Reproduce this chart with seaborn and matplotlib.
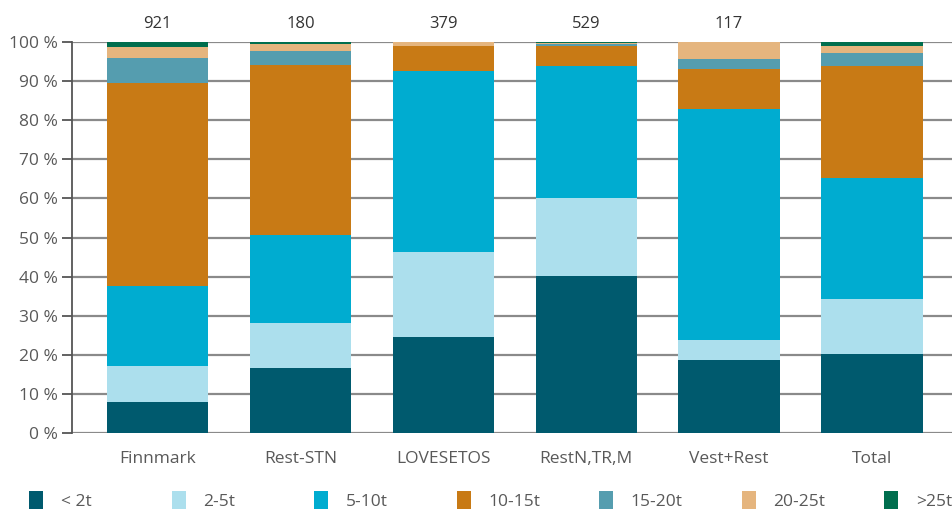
import numpy as np
import pandas as pd
import matplotlib
matplotlib.use('Agg')
import matplotlib.pyplot as plt
import seaborn as sns
from matplotlib.patches import Patch

# Data (shares in %)
regions = ['Finnmark', 'Rest-STN', 'LOVESETOS', 'RestN,TR,M', 'Vest+Rest', 'Total']
counts = ['921', '180', '379', '529', '117', '']
classes = ['< 2t', '2-5t', '5-10t', '10-15t', '15-20t', '20-25t', '>25t']

lt2 = [7.9, 16.6, 24.6, 40.2, 18.7, 20.2]
t2_5 = [9.2, 11.5, 21.7, 19.9, 5.1, 14.1]
t5_10 = [20.6, 22.5, 46.4, 33.8, 59.1, 31.0]
t10_15 = [51.7, 43.4, 6.2, 5.2, 10.1, 28.5]
t15_20 = [6.6, 3.8, 0.0, 0.3, 2.6, 3.5]
t20_25 = [2.8, 1.8, 1.1, 0.3, 4.4, 1.8]
gt25 = [1.2, 0.4, 0.0, 0.3, 0.0, 0.9]

colors = ['#005a6e', '#acdfed', '#00acd0', '#c87a15', '#559daf', '#e5b57e', '#006e4e']

sns.set_theme(style='white')
plt.rcParams['font.family'] = ['Open Sans', 'DejaVu Sans']

layers = [lt2, t2_5, t5_10, t10_15, t15_20, t20_25, gt25]
cum = np.cumsum(np.array(layers), axis=0)

fig = plt.figure(figsize=(9.52, 5.11), dpi=100)
ax = fig.add_axes([0.0756, 0.1526, 0.9244, 0.7652])

for y in range(0, 101, 10):
    ax.axhline(y, color='#8a8a8a', lw=1.6, zorder=0)

# draw stacks from the top layer down so each bar covers the one behind
for k in range(len(classes) - 1, -1, -1):
    df = pd.DataFrame({'region': regions, 'value': cum[k]})
    sns.barplot(data=df, x='region', y='value', color=colors[k], width=0.71,
                saturation=1, linewidth=0, edgecolor='none', ax=ax, zorder=2)

for i, c in enumerate(counts):
    if c:
        ax.annotate(c, (i, 100), xytext=(0, 7), textcoords='offset points',
                    ha='center', va='bottom', fontsize=12, color='#333333',
                    annotation_clip=False)

ax.set_ylim(0, 100)
ax.set_xlim(-0.6, 5.56)
ax.set_yticks(range(0, 101, 10))
ax.set_yticklabels([f'{v} %' for v in range(0, 101, 10)])
ax.set_xlabel('')
ax.set_ylabel('')
for s in ['top', 'right', 'bottom']:
    ax.spines[s].set_visible(False)
ax.spines['left'].set_color('#555555')
ax.spines['left'].set_linewidth(1.3)
ax.tick_params(axis='y', left=True, length=7, width=1.3, color='#555555',
               labelsize=12.5, labelcolor='#595959', pad=3)
ax.tick_params(axis='x', bottom=False, labelsize=12.5, labelcolor='#595959', pad=7)

# legend entries at an even pitch along the bottom
for i, (c, lab) in enumerate(zip(colors, classes)):
    fig.legend([Patch(facecolor=c, edgecolor='none')], [lab], loc='lower left',
               bbox_to_anchor=(0.0235 + i * 0.1497, -0.012), frameon=False,
               fontsize=12.5, labelcolor='#595959', handlelength=0.8,
               handleheight=1.2, handletextpad=1.0, borderaxespad=0, borderpad=0.4)

fig.savefig('out.png', dpi=100)
